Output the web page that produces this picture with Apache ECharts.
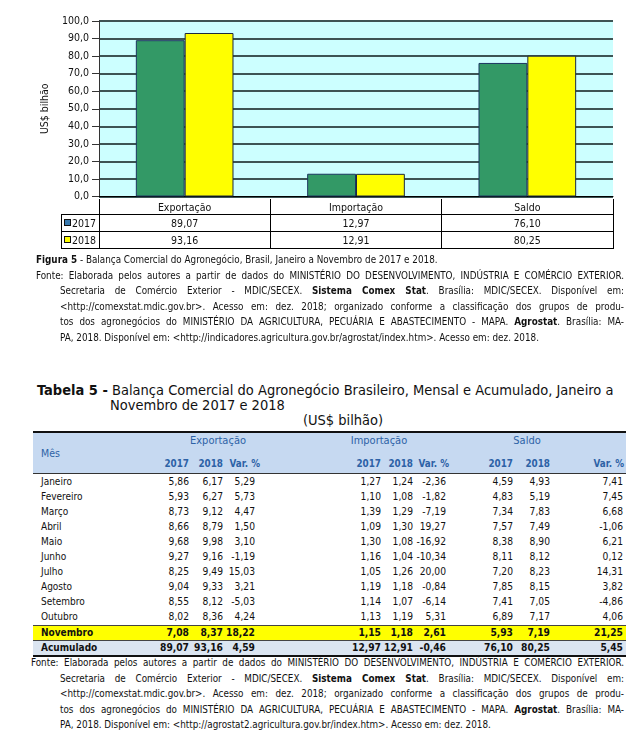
<!DOCTYPE html>
<html><head><meta charset="utf-8">
<script src="https://cdn.jsdelivr.net/npm/echarts/dist/echarts.min.js"></script>
<style>
html,body{margin:0;padding:0;background:#fff;}
#page{position:relative;width:639px;height:750px;overflow:hidden;font-family:"DejaVu Sans Condensed","DejaVu Sans",sans-serif;font-stretch:condensed;color:#111;}
#chart{position:absolute;left:0;top:0;width:639px;height:202px;}
.a{position:absolute;white-space:nowrap;}
.j{text-align:justify;text-align-last:justify;}
</style></head>
<body><div id="page"><div id="chart"></div></div>
<script>
// ---- chart data ----
const categories = ['Exportação', 'Importação', 'Saldo'];
const seriesNames = ['2017', '2018'];
const values2017 = [89.07, 12.97, 76.10];
const values2018 = [93.16, 12.91, 80.25];

// ---- table data (US$ bilhão) ----
const months = ['Janeiro','Fevereiro','Março','Abril','Maio','Junho','Julho','Agosto','Setembro','Outubro','Novembro','Acumulado'];
const exp2017 = [5.86,5.93,8.73,8.66,9.68,9.27,8.25,9.04,8.55,8.02,7.08,89.07];
const exp2018 = [6.17,6.27,9.12,8.79,9.98,9.16,9.49,9.33,8.12,8.36,8.37,93.16];
const expVar  = [5.29,5.73,4.47,1.50,3.10,-1.19,15.03,3.21,-5.03,4.24,18.22,4.59];
const imp2017 = [1.27,1.10,1.39,1.09,1.30,1.16,1.05,1.19,1.14,1.13,1.15,12.97];
const imp2018 = [1.24,1.08,1.29,1.30,1.08,1.04,1.26,1.18,1.07,1.19,1.18,12.91];
const impVar  = [-2.36,-1.82,-7.19,19.27,-16.92,-10.34,20.00,-0.84,-6.14,5.31,2.61,-0.46];
const sal2017 = [4.59,4.83,7.34,7.57,8.38,8.11,7.20,7.85,7.41,6.89,5.93,76.10];
const sal2018 = [4.93,5.19,7.83,7.49,8.90,8.12,8.23,8.15,7.05,7.17,7.19,80.25];
const salVar  = [7.41,7.45,6.68,-1.06,6.21,0.12,14.31,3.82,-4.86,4.06,21.25,5.45];
const groupHeaders = ['Exportação','Importação','Saldo'];
const subHeaders = ['2017','2018','Var. %'];

const FONT = '"DejaVu Sans Condensed","DejaVu Sans",sans-serif';
const page = document.getElementById('page');
function fmt(v, d){ return v.toFixed(d).replace('.', ','); }
function el(style, html, cls){
  const d = document.createElement('div');
  d.className = 'a' + (cls ? ' ' + cls : '');
  Object.assign(d.style, style);
  if (html !== undefined) d.innerHTML = html;
  page.appendChild(d);
  return d;
}
function hline(x1, x2, y, th, c){ el({left:x1+'px', top:(y - th/2)+'px', width:(x2-x1)+'px', height:th+'px', background:c}); }
function vline(x, y1, y2, th, c){ el({left:(x - th/2)+'px', top:y1+'px', width:th+'px', height:(y2-y1)+'px', background:c}); }
function txt(s, x, yc, opts){
  opts = opts || {};
  const fs = opts.fs || 10;
  const st = {top:(yc - 8)+'px', height:'16px', lineHeight:'16px', fontSize:fs+'px', color:opts.color||'#111', fontWeight:opts.bold?'bold':'normal'};
  if (opts.align === 'right') { st.right = (639 - x)+'px'; st.textAlign='right'; }
  else if (opts.align === 'center') { st.left = (x - 100)+'px'; st.width = '200px'; st.textAlign='center'; }
  else { st.left = x+'px'; }
  if (opts.width) { st.width = opts.width+'px'; }
  return el(st, s, opts.cls);
}

// ---- ECharts bar chart ----
const chart = echarts.init(document.getElementById('chart'));
chart.setOption({
  animation:false,
  grid:{left:99, top:21, width:514, height:178, show:true, backgroundColor:'#ccffff', borderWidth:0},
  xAxis:{type:'category', data:categories, axisLine:{show:true, lineStyle:{color:'#000', width:1}}, axisTick:{show:false}, axisLabel:{show:false}},
  yAxis:{type:'value', min:0, max:100, interval:10,
    name:'US$ bilhão', nameLocation:'middle', nameGap:48,
    nameTextStyle:{fontSize:10.5, color:'#111', fontFamily:FONT},
    axisLine:{show:true, lineStyle:{color:'#333', width:1}},
    axisTick:{show:true, length:7, lineStyle:{color:'#333', width:1}},
    axisLabel:{formatter:v=>fmt(v,1), fontSize:10.5, color:'#111', margin:10, fontFamily:FONT},
    splitLine:{show:true, lineStyle:{color:'#3d5454', width:2}}},
  series:[
    {type:'bar', name:seriesNames[0], data:values2017, barGap:'0%', barCategoryGap:'43%',
     itemStyle:{color:'#339966', borderColor:'#1c3560', borderWidth:1}},
    {type:'bar', name:seriesNames[1], data:values2018, barGap:'0%', barCategoryGap:'43%',
     itemStyle:{color:'#ffff00', borderColor:'#1c2a40', borderWidth:1}}
  ]
});

// ---- data table under the chart ----
const colX = [99, 270.3, 441.7, 613];
vline(99, 199, 248, 1, '#000');
for (let i = 1; i < 4; i++) vline(colX[i], 199, 248, 1, '#000');
vline(61, 214, 248, 1, '#000');
hline(61, 613, 214, 1, '#000');
hline(61, 613, 231, 1, '#000');
hline(60.5, 613.5, 248, 1, '#000');
categories.forEach((c, i) => {
  const cx = (colX[i] + colX[i+1]) / 2;
  txt(c, cx, 206.5, {align:'center', fs:10.5});
  txt(fmt(values2017[i],2), cx, 222.5, {align:'center', fs:10.5});
  txt(fmt(values2018[i],2), cx, 239.5, {align:'center', fs:10.5});
});
const keyColors = ['#3a7bb0', '#ffff00'];
[222.5, 239.5].forEach((yc, i) => {
  el({left:'64px', top:(yc-3.5)+'px', width:'7px', height:'7px', boxSizing:'border-box', border:'1px solid #111', background:keyColors[i]});
  txt(seriesNames[i], 72, yc, {fs:10.5});
});

// ---- captions ----
const CFS = 9.8, capRight = 624;
function captionBlock(lines, y0, step, firstLeft, indentLeft, firstCount){
  lines.forEach((ln, i) => {
    const x = i < firstCount ? firstLeft : indentLeft;
    txt(ln.t, x, y0 + i*step, {fs:CFS, width: ln.j ? (capRight - x) : undefined, cls: ln.j ? 'j' : ''});
  });
}
captionBlock([
  {t:'<b>Figura 5</b> - Balança Comercial do Agronegócio, Brasil, Janeiro a Novembro de 2017 e 2018.', j:false},
  {t:'Fonte: Elaborada pelos autores a partir de dados do MINISTÉRIO DO DESENVOLVIMENTO, INDÚSTRIA E COMÉRCIO EXTERIOR.', j:true},
  {t:'Secretaria de Comércio Exterior - MDIC/SECEX. <b>Sistema Comex Stat</b>. Brasília: MDIC/SECEX. Disponível em:', j:true},
  {t:'&lt;http://comexstat.mdic.gov.br&gt;. Acesso em: dez. 2018; organizado conforme a classificação dos grupos de produ-', j:true},
  {t:'tos dos agronegócios do MINISTÉRIO DA AGRICULTURA, PECUÁRIA E ABASTECIMENTO - MAPA. <b>Agrostat</b>. Brasília: MA-', j:true},
  {t:'PA, 2018. Disponível em: &lt;http://indicadores.agricultura.gov.br/agrostat/index.htm&gt;. Acesso em: dez. 2018.', j:false}
], 260, 15.5, 36, 60, 2);

// ---- Tabela 5 title ----
txt('<b>Tabela 5 -</b> Balança Comercial do Agronegócio Brasileiro, Mensal e Acumulado, Janeiro a', 37, 390, {fs:14.5});
txt('Novembro de 2017 e 2018', 110, 405, {fs:14.5});
txt('(US$ bilhão)', 343, 420, {fs:14.5, align:'center'});

// ---- Tabela 5 ----
const TL = 33, TR = 626;
const HB = '#2d62a6';
el({left:TL+'px', top:'432px', width:(TR-TL)+'px', height:'41px', background:'#c6d9f1'});
hline(TL, TR, 432, 2, '#111');
hline(TL, TR, 473.5, 1, '#333');
txt('Mês', 41, 453, {fs:10.5, color:HB});
const groupCenters = [218, 379, 527];
groupHeaders.forEach((g, i) => txt(g, groupCenters[i], 441, {fs:11, color:HB, align:'center'}));
const rightEdges = [[189, 223, 255], [381, 413, 446], [513, 550, 623]];
const headRight = [[189, 223, 260], [381, 413, 449], [513, 550, 624]];
headRight.forEach(grp => grp.forEach((r, k) => txt(subHeaders[k], r, 464, {fs:9.8, color:HB, bold:true, align:'right'})));

const rowTop = 474, rowH = 15.1;
const cols = [[exp2017, exp2018, expVar], [imp2017, imp2018, impVar], [sal2017, sal2018, salVar]];
months.forEach((m, i) => {
  const top = rowTop + i*rowH, yc = top + rowH/2;
  const special = (i === 10) ? '#ffff00' : (i === 11 ? '#dbe5f1' : null);
  if (special) el({left:TL+'px', top:top+'px', width:(TR-TL)+'px', height:rowH+'px', background:special});
  const bold = i >= 10;
  txt(m, 41, yc, {fs:10, bold:bold});
  cols.forEach((grp, g) => grp.forEach((arr, k) => txt(fmt(arr[i],2), rightEdges[g][k], yc, {fs:10.2, bold:bold, align:'right'})));
});
hline(TL, TR, rowTop + 10*rowH, 1, '#444');
hline(TL, TR, rowTop + 11*rowH, 1, '#444');
hline(TL, TR, rowTop + 12*rowH + 0.5, 2, '#111');

// ---- Fonte under the table ----
captionBlock([
  {t:'Fonte: Elaborada pelos autores a partir de dados do MINISTÉRIO DO DESENVOLVIMENTO, INDÚSTRIA E COMÉRCIO EXTERIOR.', j:true},
  {t:'Secretaria de Comércio Exterior - MDIC/SECEX. <b>Sistema Comex Stat</b>. Brasília: MDIC/SECEX. Disponível em:', j:true},
  {t:'&lt;http://comexstat.mdic.gov.br&gt;. Acesso em: dez. 2018; organizado conforme a classificação dos grupos de produ-', j:true},
  {t:'tos dos agronegócios do MINISTÉRIO DA AGRICULTURA, PECUÁRIA E ABASTECIMENTO - MAPA. <b>Agrostat</b>. Brasília: MA-', j:true},
  {t:'PA, 2018. Disponível em: &lt;http://agrostat2.agricultura.gov.br/index.htm&gt;. Acesso em: dez. 2018.', j:false}
], 663, 15.5, 31, 60, 1);
</script></body></html>
